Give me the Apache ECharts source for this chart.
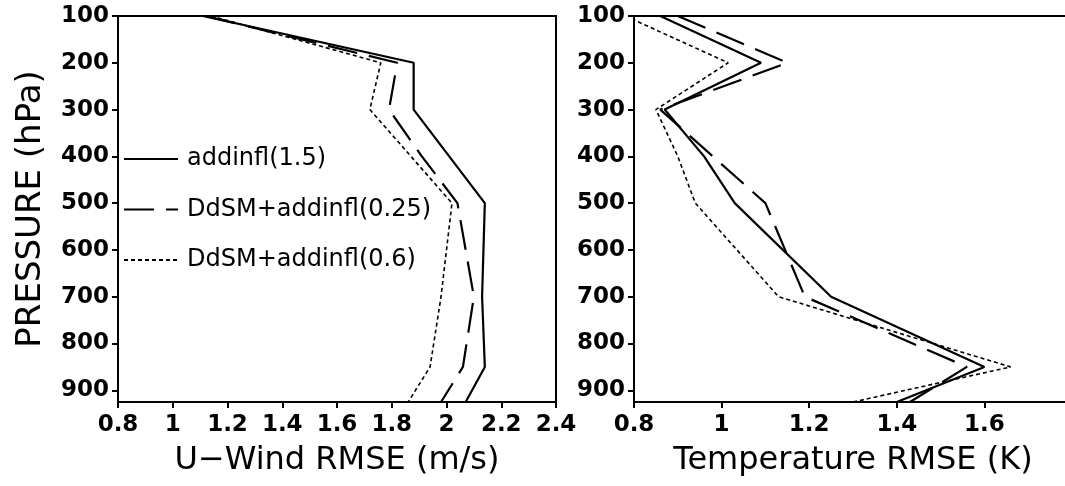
<!DOCTYPE html>
<html>
<head>
<meta charset="utf-8">
<script src="https://cdn.jsdelivr.net/npm/echarts@6/dist/echarts.min.js"></script>
<style>
  html, body { margin: 0; padding: 0; background: #fff; }
  #main { width: 1065px; height: 486px; }
</style>
</head>
<body>
<div id="main"></div>
<script>
// pressure levels (hPa)
let levels = [100, 200, 300, 400, 500, 700, 850, 925];
let names = ['addinfl(1.5)', 'DdSM+addinfl(0.25)', 'DdSM+addinfl(0.6)'];

// U-wind RMSE (m/s)
let uSolid = [1.11, 1.88, 1.88, 2.01, 2.14, 2.13, 2.14, 2.07];
let uDash  = [1.12, 1.82, 1.79, 1.91, 2.04, 2.10, 2.06, 1.98];
let uDot   = [1.14, 1.76, 1.72, 1.87, 2.02, 1.98, 1.94, 1.86];

// temperature RMSE (K)
let tSolid = [0.86, 1.09, 0.87, 0.96, 1.03, 1.25, 1.60, 1.40];
let tDash  = [0.90, 1.15, 0.86, 0.98, 1.10, 1.19, 1.56, 1.43];
let tDot   = [0.78, 1.015, 0.85, 0.90, 0.94, 1.13, 1.66, 1.30];

let pairs = (xs) => xs.map((v, i) => [v, levels[i]]);

let lineStyles = [
  { color: '#000', width: 2.2, type: 'solid' },
  { color: '#000', width: 2.2, type: [30, 12] },
  { color: '#000', width: 1.6, type: [4, 3] }
];

let tickFont = { fontFamily: 'DejaVu Sans', fontWeight: 'bold', fontSize: 23, color: '#000' };
let nameFont = { fontFamily: 'DejaVu Sans', fontSize: 32, color: '#000' };

function xAxisFor(idx, max, name) {
  return {
    type: 'value', gridIndex: idx, min: 0.8, max: max, interval: 0.2,
    name: name, nameLocation: 'middle', nameGap: 43, nameTextStyle: nameFont,
    axisLine: { lineStyle: { color: '#000', width: 2 } },
    axisTick: { length: 6, lineStyle: { color: '#000', width: 2 } },
    axisLabel: Object.assign({ margin: 12, showMinLabel: true, showMaxLabel: idx === 0,
      formatter: (v) => String(Math.round(v * 10) / 10) }, tickFont),
    splitLine: { show: false }
  };
}

function yAxisFor(idx, name) {
  return {
    type: 'value', gridIndex: idx, min: 100, max: 925, interval: 100, inverse: true,
    name: name, nameLocation: 'middle', nameGap: 70,
    nameTextStyle: Object.assign({}, nameFont, { fontSize: 34 }),
    axisLine: { lineStyle: { color: '#000', width: 2 } },
    axisTick: { length: 6, lineStyle: { color: '#000', width: 2 } },
    axisLabel: Object.assign({ margin: 9, showMaxLabel: false }, tickFont),
    splitLine: { show: false }
  };
}

let myChart = echarts.init(document.getElementById('main'), null, { renderer: 'canvas' });

let series = [];
[[uSolid, uDash, uDot], [tSolid, tDash, tDot]].forEach((set, g) => {
  set.forEach((xs, k) => {
    series.push({
      name: names[k], type: 'line', xAxisIndex: g, yAxisIndex: g,
      data: pairs(xs), symbol: 'none', clip: true, animation: false,
      itemStyle: { color: '#000' },
      lineStyle: lineStyles[k]
    });
  });
});

let option = {
  backgroundColor: '#fff',
  animation: false,
  grid: [
    { left: 118, top: 16, width: 438, height: 386, outerBoundsMode: 'none',
      show: true, borderColor: '#000', borderWidth: 2 },
    { left: 634, top: 16, width: 438, height: 386, outerBoundsMode: 'none',
      show: true, borderColor: '#000', borderWidth: 2 }
  ],
  legend: {
    data: names, orient: 'vertical', left: 118, top: 142,
    itemWidth: 54, itemHeight: 20, itemGap: 26.5,
    itemStyle: { opacity: 0 },
    textStyle: { fontFamily: 'DejaVu Sans', fontSize: 24, color: '#000', padding: [0, 0, 0, 4] },
    selectedMode: false
  },
  xAxis: [xAxisFor(0, 2.4, 'U\u2212Wind RMSE (m/s)'), xAxisFor(1, 1.8, 'Temperature RMSE (K)')],
  yAxis: [yAxisFor(0, 'PRESSURE (hPa)'), yAxisFor(1, '')],
  series: series
};

myChart.setOption(option);
</script>
</body>
</html>
